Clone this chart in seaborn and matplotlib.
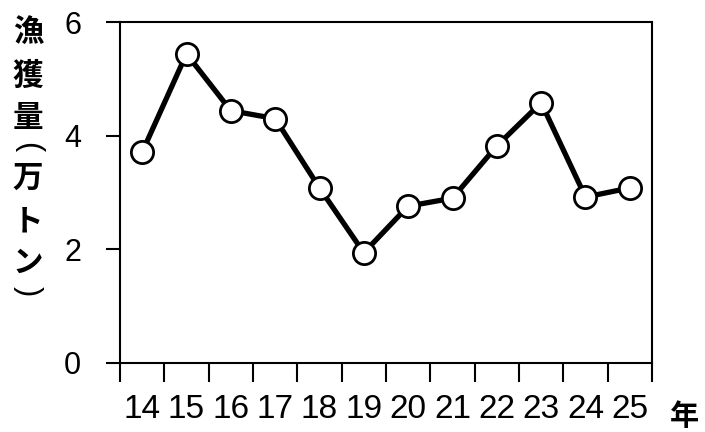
import pandas as pd
import matplotlib.pyplot as plt
import seaborn as sns

# データ
years = ["14", "15", "16", "17", "18", "19", "20", "21", "22", "23", "24", "25"]
catch = [3.71, 5.44, 4.44, 4.30, 3.08, 1.94, 2.76, 2.90, 3.82, 4.58, 2.92, 3.08]

df = pd.DataFrame({"year": years, "catch": catch})
df["x"] = range(len(years))

sns.set_style("ticks")
plt.rcParams['font.family'] = ['Liberation Sans', 'Noto Sans CJK JP', 'DejaVu Sans']
plt.rcParams['text.color'] = 'black'
plt.rcParams['xtick.color'] = 'black'
plt.rcParams['ytick.color'] = 'black'
plt.rcParams['xtick.labelcolor'] = 'black'
plt.rcParams['ytick.labelcolor'] = 'black'
jp = ['Noto Sans CJK JP', 'DejaVu Sans']

fig = plt.figure(figsize=(7.05, 4.32), dpi=100)
ax = fig.add_axes([120 / 705, 69 / 432, 532 / 705, 341 / 432])

sns.lineplot(data=df, x="x", y="catch", ax=ax, color="black", linewidth=3.8,
             marker="o", markersize=16, markerfacecolor="white",
             markeredgecolor="black", markeredgewidth=2)

ax.set_xlim(-0.5, len(years) - 0.5)
ax.set_ylim(0, 6)
ax.set_yticks([0, 2, 4, 6])
ax.set_xticks([i - 0.5 for i in range(len(years) + 1)])
ax.set_xticklabels([])
ax.set_xticks(range(len(years)), minor=True)
ax.set_xticklabels(years, minor=True)
ax.tick_params(axis="x", which="minor", length=0, pad=22, labelsize=24, colors="black")
ax.tick_params(axis="x", which="major", length=14, width=1.5, direction="out", colors="black")
ax.tick_params(axis="y", length=10, width=1.5, labelsize=22, pad=18, colors="black")
ax.set_xlabel("")
ax.set_ylabel("")
for s in ax.spines.values():
    s.set_linewidth(1.5)
    s.set_color("black")

# 縦書きの軸ラベル（括弧は回転させる）
label_chars = ["漁", "獲", "量", "(", "万", "ト", "ン", ")"]
label_y = [32, 76, 118, 147, 178, 221, 263, 291]
for ch, yy in zip(label_chars, label_y):
    if ch in "()":
        fig.text(28 / 705, 1 - yy / 432, ch, ha="center", va="center", fontsize=22,
                 rotation=-90, family=['Liberation Sans'], color="black")
    else:
        fig.text(28 / 705, 1 - yy / 432, ch, ha="center", va="center", fontsize=22,
                 fontweight="bold", family=jp, color="black")

fig.text(684 / 705, 1 - 416 / 432, "年", ha="center", va="center", fontsize=21,
         fontweight="bold", family=jp, color="black")

fig.savefig("out.png", dpi=100)
